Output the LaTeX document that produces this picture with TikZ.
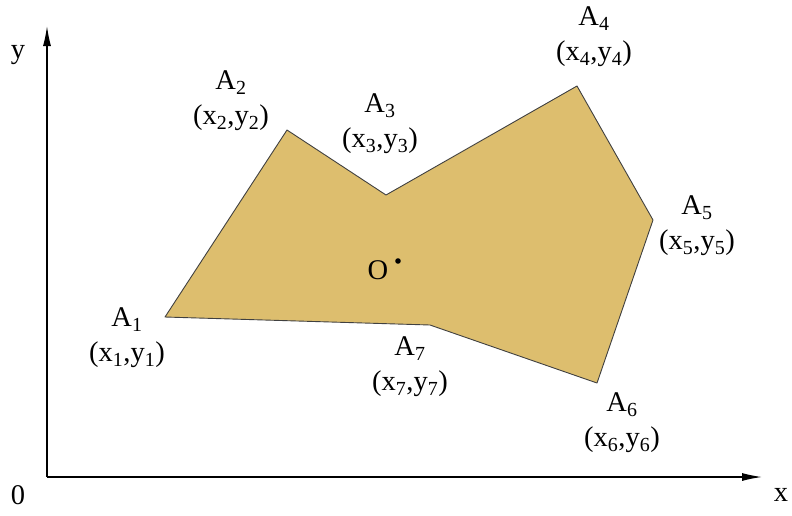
\documentclass[tikz,border=0pt]{standalone}
\usepackage{fontspec}
\setmainfont{Liberation Serif}
\usepackage{tikz}
\usetikzlibrary{arrows.meta}
\definecolor{areafill}{RGB}{221,190,110}
\newcommand{\vlabel}[1]{A\textsubscript{#1}\\(x\textsubscript{#1},y\textsubscript{#1})}

\begin{document}
\begin{tikzpicture}[
  x=1pt,y=-1pt,
  >=Latex,
  %% axes: thin lines with long narrow tips
  axis/.style={line width=1.3pt,-{Latex[length=20pt,width=8pt]}},
  %% the polygon
  area/.style={draw=black!75,line width=0.9pt,fill=areafill,line join=round},
  %% vertex labels
  vtxlabel/.style={align=center,font=\fontsize{28.5}{35}\selectfont,inner sep=0pt}
]
\useasboundingbox (0,0) rectangle (792,515);

%% ---- AXES ----
\coordinate (orig) at (47,477);
\coordinate (xend) at (762,477);
\coordinate (yend) at (47,26);
\draw[axis] (orig) -- (xend);
\draw[axis] (orig) -- (yend);
\node[vtxlabel] (ylab) at (18,55) {y};
\node[vtxlabel] (xlab) at (781,495) {x};
\node[vtxlabel] (zero) at (18,495) {0};

%% ---- VERTICES ----
\coordinate (a1) at (165,317);
\coordinate (a2) at (287,130);
\coordinate (a3) at (386,195);
\coordinate (a4) at (577,86);
\coordinate (a5) at (653,220);
\coordinate (a6) at (597,383);
\coordinate (a7) at (430,325);

\draw[area] (a1) -- (a2) -- (a3) -- (a4) -- (a5) -- (a6) -- (a7) -- cycle;

%% ---- CENTRE ----
\fill (398,261) circle (2.8pt) coordinate (ctr);
\node[vtxlabel] (olab) at (378,270) {O};

%% ---- VERTEX LABELS ----
\node[vtxlabel] (l1) at (127,338) {\vlabel{1}};
\node[vtxlabel] (l2) at (231,101) {\vlabel{2}};
\node[vtxlabel] (l3) at (380,124) {\vlabel{3}};
\node[vtxlabel] (l4) at (594,37) {\vlabel{4}};
\node[vtxlabel] (l5) at (697,226) {\vlabel{5}};
\node[vtxlabel] (l6) at (622,423) {\vlabel{6}};
\node[vtxlabel] (l7) at (410,367) {\vlabel{7}};

\end{tikzpicture}
\end{document}
